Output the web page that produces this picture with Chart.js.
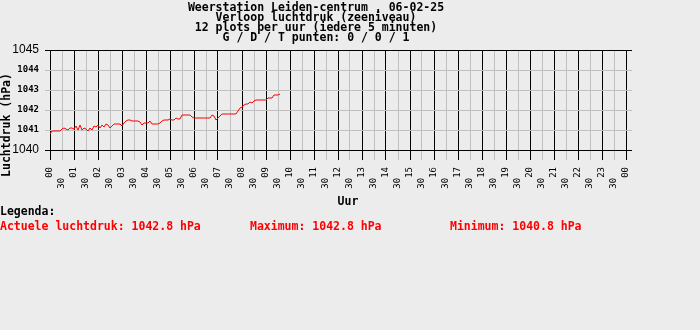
<!DOCTYPE html>
<html>
<head>
<meta charset="utf-8">
<title>Verloop luchtdruk - Leiden-centrum</title>
<script src="https://cdn.jsdelivr.net/npm/chart.js@4.4.1/dist/chart.umd.min.js"></script>
<style>
    html, body { margin: 0; padding: 0; background: #ececec; }
    canvas { display: block; background: #ececec; }
</style>
</head>
<body>
<canvas id="chartLuchtdruk" width="700" height="330"></canvas>
<script>
// ===== Luchtdruk grafiek =====

const titelRegels = [
    'Weerstation Leiden-centrum , 06-02-25',
    'Verloop luchtdruk (zeeniveau)',
    '12 plots per uur (iedere 5 minuten)',
    'G / D / T punten: 0 / 0 / 1'
];

// x-as labels, elk half uur
const tijdLabels = [
    '00', '30', '01', '30', '02', '30', '03', '30', '04', '30', '05', '30',
    '06', '30', '07', '30', '08', '30', '09', '30', '10', '30', '11', '30',
    '12', '30', '13', '30', '14', '30', '15', '30', '16', '30', '17', '30',
    '18', '30', '19', '30', '20', '30', '21', '30', '22', '30', '23', '30', '00'
];

const yTicks = [1040, 1041, 1042, 1043, 1044, 1045];

// meting iedere 5 minuten vanaf 00:00 (hPa)
const meetInterval = 5;
const luchtdruk = [
    1040.8, 1040.95, 1040.95, 1040.95, 1040.95, 1040.95, 1041.05, 1041.1, 1041.05, 1041.0, 1041.1, 1041.1,
    1041.05, 1041.2, 1041.0, 1041.25, 1041.0, 1041.1, 1041.05, 1040.95, 1041.1, 1041.0, 1041.2, 1041.15,
    1041.25, 1041.1, 1041.25, 1041.15, 1041.3, 1041.25, 1041.1, 1041.2, 1041.3, 1041.3, 1041.3, 1041.3,
    1041.2, 1041.35, 1041.45, 1041.5, 1041.5, 1041.45, 1041.45, 1041.45, 1041.45, 1041.4, 1041.25, 1041.35,
    1041.35, 1041.35, 1041.45, 1041.3, 1041.3, 1041.3, 1041.3, 1041.35, 1041.45, 1041.5, 1041.5, 1041.5,
    1041.55, 1041.5, 1041.5, 1041.6, 1041.55, 1041.55, 1041.75, 1041.75, 1041.75, 1041.75, 1041.75, 1041.65,
    1041.6, 1041.6, 1041.6, 1041.6, 1041.6, 1041.6, 1041.6, 1041.6, 1041.6, 1041.75, 1041.7, 1041.5,
    1041.6, 1041.7, 1041.8, 1041.8, 1041.8, 1041.8, 1041.8, 1041.8, 1041.8, 1041.8, 1041.95, 1042.1,
    1042.15, 1042.25, 1042.3, 1042.3, 1042.4, 1042.35, 1042.45, 1042.5, 1042.5, 1042.5, 1042.5, 1042.5,
    1042.5, 1042.6, 1042.6, 1042.6, 1042.75, 1042.75, 1042.75, 1042.8
];

const MONO = '"DejaVu Sans Mono", "Liberation Mono", monospace';

// Extra teksten: as-titels en legenda
const tekstPlugin = {
    id: 'tekstPlugin',
    afterDraw(chart) {
        const ctx = chart.ctx;
        const actueel = luchtdruk[luchtdruk.length - 1];
        const maximum = Math.max(...luchtdruk);
        const minimum = Math.min(...luchtdruk);

        ctx.save();
        ctx.font = 'bold 11.5px ' + MONO;
        ctx.fillStyle = '#000000';
        ctx.textBaseline = 'middle';

        // y-as titel
        ctx.save();
        ctx.translate(7, 125);
        ctx.rotate(-Math.PI / 2);
        ctx.textAlign = 'center';
        ctx.fillText('Luchtdruk (hPa)', 0, 0);
        ctx.restore();

        // x-as titel
        ctx.textAlign = 'center';
        ctx.fillText('Uur', 348, 202);

        // legenda
        ctx.textAlign = 'left';
        ctx.fillText('Legenda:', 0, 212);
        ctx.fillStyle = '#ff0000';
        ctx.fillText('Actuele luchtdruk: ' + actueel.toFixed(1) + ' hPa', 0, 227);
        ctx.fillText('Maximum: ' + maximum.toFixed(1) + ' hPa', 250, 227);
        ctx.fillText('Minimum: ' + minimum.toFixed(1) + ' hPa', 450, 227);
        ctx.restore();
    }
};

new Chart(document.getElementById('chartLuchtdruk'), {
    type: 'line',
    data: {
        datasets: [{
            label: 'Luchtdruk',
            data: luchtdruk.map((v, i) => ({ x: i * meetInterval, y: v })),
            borderColor: '#ff0000',
            borderWidth: 1,
            pointRadius: 0,
            tension: 0,
            fill: false
        }]
    },
    options: {
        responsive: false,
        animation: false,
        events: [],
        layout: { padding: { left: 0, right: 68, top: 0, bottom: 0 } },
        plugins: {
            legend: { display: false },
            tooltip: { enabled: false },
            title: {
                display: true,
                text: titelRegels,
                color: '#000000',
                font: { family: MONO, size: 11.5, weight: 'bold', lineHeight: '10px' },
                padding: { top: 3, bottom: 7 }
            }
        },
        scales: {
            x: {
                type: 'linear',
                min: 0,
                max: 1455,
                afterBuildTicks: s => { s.ticks = tijdLabels.map((_, k) => ({ value: k * 30 })); },
                afterFit: s => { s.height = 180; },
                border: { display: false },
                grid: {
                    color: c => (c.index % 2 === 0 ? '#000000' : '#c0c0c0'),
                    lineWidth: 1,
                    tickLength: 10
                },
                ticks: {
                    autoSkip: false,
                    minRotation: 90,
                    maxRotation: 90,
                    padding: 7,
                    color: '#000000',
                    font: { family: MONO, size: 9 },
                    callback: (v, k) => (k % 2 ? tijdLabels[k] + '  ' : tijdLabels[k])
                }
            },
            y: {
                min: 1040,
                max: 1045,
                afterBuildTicks: s => { s.ticks = yTicks.map(v => ({ value: v })); },
                afterFit: s => { s.width = 50; },
                border: { display: false },
                grid: {
                    color: c => (c.tick && (c.tick.value === 1040 || c.tick.value === 1045) ? '#000000' : '#c0c0c0'),
                    lineWidth: 1,
                    tickLength: 5
                },
                ticks: {
                    padding: 6,
                    color: '#000000',
                    font: c => (c.tick && (c.tick.value === 1040 || c.tick.value === 1045)
                        ? { family: '"Liberation Sans", Arial, sans-serif', size: 12 }
                        : { family: MONO, size: 9, weight: 'bold' }),
                    callback: v => v
                }
            }
        }
    },
    plugins: [tekstPlugin]
});
</script>
</body>
</html>
